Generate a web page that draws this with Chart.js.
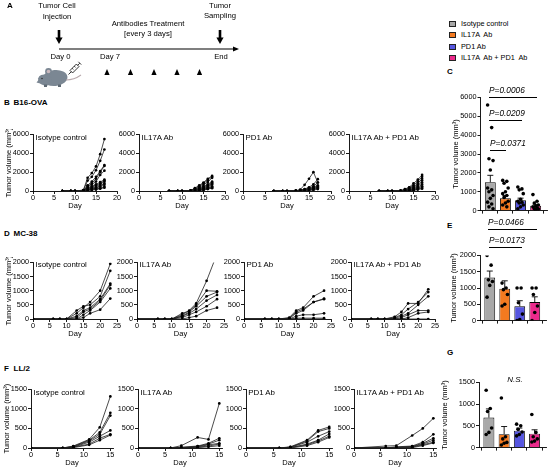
<!DOCTYPE html>
<html>
<head>
<meta charset="utf-8">
<script src="https://cdn.jsdelivr.net/npm/chart.js@4.4.1/dist/chart.umd.min.js"></script>
<style>
  html, body { margin: 0; padding: 0; background: #fff; }
  #fig { position: relative; width: 550px; height: 468px; overflow: hidden;
         font-family: "Liberation Sans", Arial, sans-serif; color: #000; }
  #fig canvas { position: absolute; }
  .t { position: absolute; white-space: pre; line-height: 1; }
  .sw { position: absolute; width: 5px; height: 4px; border: 1px solid #222; }
  .br { position: absolute; height: 0; border-top: 1px solid #000; }
</style>
</head>
<body>
<div id="fig"></div>
<script>
// groups
const groupNames = ['Isotype control', 'IL17A  Ab', 'PD1 Ab', 'IL17A  Ab + PD1  Ab']
const panelTitles = ['Isotype control', 'IL17A Ab', 'PD1 Ab', 'IL17A Ab + PD1 Ab']
const groupColors = ['#a8a8a8', '#f47a20', '#5656e0', '#ec2a8c']

// B16-OVA growth curves (mm3)
const daysB16 = [7, 9, 10, 12, 13, 14, 15, 16, 17]
const isoB16 = [
  [0, 0, 0, 100, 1400, 1900, 2600, 3900, 5500],
  [0, 0, 0, 80, 1100, 1500, 2200, 3200, 4400],
  [0, 0, 0, 60, 600, 1000, 1500, 2100, 2750],
  [0, 0, 0, 50, 500, 800, 1300, 2000, 2650],
  [0, 0, 0, 40, 400, 700, 1000, 1700, 2150],
  [0, 0, 0, 30, 300, 500, 700, 950, 1200],
  [0, 0, 0, 20, 250, 400, 600, 800, 1100],
  [0, 0, 0, 20, 200, 300, 450, 700, 1000],
  [0, 0, 0, 10, 150, 250, 350, 550, 800],
  [0, 0, 0, 10, 100, 200, 300, 450, 650],
  [0, 0, 0, 0, 80, 150, 200, 300, 450],
  [0, 0, 0, 0, 50, 100, 150, 250, 350]
]
const il17B16 = [
  [0, 0, 0, 50, 300, 600, 900, 1300, 1600],
  [0, 0, 0, 40, 250, 500, 800, 1150, 1500],
  [0, 0, 0, 30, 200, 400, 650, 950, 1400],
  [0, 0, 0, 20, 150, 300, 500, 700, 1000],
  [0, 0, 0, 20, 100, 250, 400, 600, 900],
  [0, 0, 0, 10, 100, 200, 300, 500, 800],
  [0, 0, 0, 10, 80, 150, 250, 400, 700],
  [0, 0, 0, 0, 50, 100, 200, 300, 500],
  [0, 0, 0, 0, 40, 80, 150, 250, 400],
  [0, 0, 0, 0, 20, 50, 100, 200, 300]
]
const pd1B16 = [
  [0, 0, 0, 30, 150, 650, 1300, 2000, 900],
  [0, 0, 0, 20, 100, 200, 400, 700, 1250],
  [0, 0, 0, 20, 80, 150, 300, 500, 900],
  [0, 0, 0, 10, 60, 120, 250, 400, 600],
  [0, 0, 0, 10, 50, 100, 200, 300, 500],
  [0, 0, 0, 0, 30, 80, 150, 250, 400],
  [0, 0, 0, 0, 20, 50, 100, 200, 300],
  [0, 0, 0, 0, 10, 30, 60, 100, 200]
]
const comboB16 = [
  [0, 0, 0, 30, 200, 400, 800, 1200, 1700],
  [0, 0, 0, 20, 150, 350, 600, 1000, 1500],
  [0, 0, 0, 20, 100, 250, 450, 800, 1300],
  [0, 0, 0, 10, 80, 200, 400, 650, 1100],
  [0, 0, 0, 10, 60, 150, 300, 500, 900],
  [0, 0, 0, 0, 50, 100, 200, 400, 700],
  [0, 0, 0, 0, 30, 80, 150, 300, 500],
  [0, 0, 0, 0, 20, 50, 100, 200, 350],
  [0, 0, 0, 0, 10, 30, 60, 150, 250]
]

// MC-38 growth curves
const daysMC38 = [0, 6, 8, 10, 13, 15, 17, 20, 23]
const isoMC38 = [
  [0, 0, 0, 0, 200, 400, 600, 1000, 1950],
  [0, 0, 0, 0, 300, 450, 500, 800, 1700],
  [0, 0, 0, 0, 100, 300, 400, 700, 1250],
  [0, 0, 0, 0, 50, 250, 350, 650, 1200],
  [0, 0, 0, 0, 0, 150, 300, 600, 1080],
  [0, 0, 0, 0, 0, 50, 200, 330, 720]
]
const il17MC38 = [
  [0, 0, 0, 0, 150, 300, 550, 1350, 2300],
  [0, 0, 0, 0, 200, 280, 500, 1000, 980],
  [0, 0, 0, 0, 100, 250, 450, 800, 950],
  [0, 0, 0, 0, 100, 200, 350, 650, 850],
  [0, 0, 0, 0, 50, 150, 250, 450, 700],
  [0, 0, 0, 0, 0, 50, 100, 300, 400]
]
const pd1MC38 = [
  [0, 0, 0, 0, 50, 300, 400, 800, 1000],
  [0, 0, 0, 0, 30, 250, 350, 600, 700],
  [0, 0, 0, 0, 20, 200, 300, 600, 720],
  [0, 0, 0, 0, 0, 100, 150, 150, 200],
  [0, 0, 0, 0, 0, 30, 30, 30, 30],
  [0, 0, 0, 0, 0, 0, 0, 0, 0]
]
const comboMC38 = [
  [0, 0, 0, 0, 80, 250, 550, 550, 1050],
  [0, 0, 0, 0, 50, 150, 350, 600, 950],
  [0, 0, 0, 0, 30, 100, 200, 500, 800],
  [0, 0, 0, 0, 0, 50, 150, 300, 300],
  [0, 0, 0, 0, 0, 0, 50, 200, 250],
  [0, 0, 0, 0, 0, 0, 0, 0, 0]
]

// LL/2 growth curves
const daysLL2 = [0, 6, 8, 11, 13, 15]
const isoLL2 = [
  [0, 0, 50, 220, 530, 1320],
  [0, 0, 40, 200, 400, 900],
  [0, 0, 30, 180, 350, 830],
  [0, 0, 20, 150, 300, 450],
  [0, 0, 20, 100, 250, 350],
  [0, 0, 10, 80, 200, 330]
]
const il17LL2 = [
  [0, 0, 60, 270, 220, 1140],
  [0, 0, 20, 50, 120, 250],
  [0, 0, 10, 40, 100, 200],
  [0, 0, 0, 30, 80, 120],
  [0, 0, 0, 20, 50, 100],
  [0, 0, 0, 10, 30, 60]
]
const pd1LL2 = [
  [0, 0, 30, 200, 450, 540],
  [0, 0, 20, 180, 420, 500],
  [0, 0, 20, 150, 300, 420],
  [0, 0, 10, 100, 200, 360],
  [0, 0, 10, 80, 180, 300],
  [0, 0, 0, 60, 150, 270]
]
const comboLL2 = [
  [0, 50, 60, 320, 500, 760],
  [0, 0, 30, 50, 150, 350],
  [0, 0, 20, 40, 120, 250],
  [0, 0, 10, 30, 100, 200],
  [0, 0, 0, 20, 80, 150],
  [0, 0, 0, 10, 60, 130]
]

// end-point bars (mean, SEM, individual mice)
const meansC = [1500, 650, 550, 260]
const semC = [370, 150, 110, 75]
const pointsC = [
  [5600, 4400, 2750, 2650, 2150, 1200, 1100, 1000, 800, 650, 450, 350, 200, 100],
  [1600, 1550, 1450, 1200, 1000, 900, 800, 700, 500, 400, 300, 200],
  [1250, 1150, 1100, 900, 600, 500, 450, 400, 300, 200, 100],
  [850, 500, 400, 300, 250, 200, 150, 100, 80, 50]
]
const meansE = [1320, 980, 440, 570]
const semE = [200, 240, 170, 160]
const pointsE = [
  [2000, 1700, 1250, 1200, 1080, 720],
  [1150, 1000, 950, 800, 500, 450],
  [1000, 1000, 550, 200, 30, 0],
  [1000, 1000, 800, 450, 250, 0]
]
const meansG = [690, 310, 390, 320]
const semG = [200, 175, 60, 90]
const pointsG = [
  [1320, 900, 830, 450, 350, 300],
  [1140, 250, 200, 120, 100, 60],
  [540, 500, 420, 360, 300, 270],
  [760, 350, 250, 200, 150, 130]
]

const fig = document.getElementById('fig')
const FONT = '"Liberation Sans", Arial, sans-serif'
const tickFont = { family: FONT, size: 7.3 }

function text(str, x, y, opt = {}) {
  let el = document.createElement('div')
  el.className = 't'
  el.textContent = str
  el.style.left = x + 'px'
  el.style.top = y + 'px'
  el.style.fontSize = (opt.size || 7.7) + 'px'
  if (opt.bold) el.style.fontWeight = 'bold'
  if (opt.italic) el.style.fontStyle = 'italic'
  el.style.transform = opt.center ? 'translate(-50%,-50%)' : 'translate(0,-50%)'
  fig.appendChild(el)
  return el
}

function makeCanvas(left, top, w, h) {
  let c = document.createElement('canvas')
  c.width = w
  c.height = h
  c.style.left = left + 'px'
  c.style.top = top + 'px'
  c.style.width = w + 'px'
  c.style.height = h + 'px'
  fig.appendChild(c)
  return c
}

function axisStyle(extra) {
  return Object.assign({
    grid: { drawOnChartArea: false, drawTicks: true, tickLength: 3, color: '#000', lineWidth: 0.9 },
    border: { display: true, color: '#000', width: 0.9 },
  }, extra)
}

const plainNum = v => String(v)
const yTitle = { display: true, text: 'Tumor volume (mm³)', color: '#000', padding: 0, font: { family: FONT, size: 7.5 } }

// one spaghetti plot; box = chart area in page pixels
function linePanel(box, days, curves, xMax, yMax, yStep, title, showY) {
  const Wy = 29, Hx = 19, pt = 5, pr = 6
  let canvas = makeCanvas(box.x0 - Wy, box.y0 - pt,
    Math.round(box.x1 - box.x0 + Wy + pr), Math.round(box.y1 - box.y0 + pt + Hx))
  let xticks = []
  for (let v = 0; v <= xMax; v += 5) xticks.push({ value: v })
  new Chart(canvas, {
    type: 'line',
    data: {
      datasets: curves.map(c => ({
        data: days.map((d, i) => ({ x: d, y: c[i] })),
        borderColor: '#1e1e1e',
        borderWidth: 0.8,
        pointRadius: 1.35,
        pointBackgroundColor: '#000',
        pointBorderWidth: 0,
        tension: 0,
      })),
    },
    options: {
      responsive: false,
      animation: false,
      events: [],
      layout: { padding: { top: pt, right: pr, left: 0, bottom: 0 } },
      plugins: { legend: { display: false }, tooltip: { enabled: false } },
      scales: {
        x: axisStyle({
          type: 'linear', min: 0, max: xMax,
          afterBuildTicks: s => { s.ticks = xticks.slice() },
          afterFit: s => { s.height = Hx },
          ticks: { font: tickFont, color: '#000', padding: 0, maxRotation: 0, autoSkip: false, callback: plainNum },
          title: { display: true, text: 'Day', color: '#000', padding: 0, font: { family: FONT, size: 7.5 } },
        }),
        y: axisStyle({
          min: 0, max: yMax,
          afterFit: s => { s.width = Wy },
          ticks: { stepSize: yStep, font: tickFont, color: '#000', padding: 1, callback: plainNum },
          title: Object.assign({}, yTitle, { display: showY }),
        }),
      },
    },
  })
  text(title, box.x0 + 2.5, box.y0 + 3.5, { size: 7.9 })
}

// error bars on top of the bars
const semPlugin = {
  id: 'sem',
  afterDatasetsDraw(chart, args, opts) {
    const { ctx, scales: { x, y } } = chart
    ctx.save()
    ctx.strokeStyle = '#000'
    ctx.lineWidth = 0.9
    opts.means.forEach((m, i) => {
      let px = x.getPixelForValue(i)
      let top = y.getPixelForValue(m + opts.sems[i])
      ctx.beginPath()
      ctx.moveTo(px, y.getPixelForValue(m))
      ctx.lineTo(px, top)
      ctx.moveTo(px - 3, top)
      ctx.lineTo(px + 3, top)
      ctx.stroke()
    })
    ctx.restore()
  },
}

function barPanel(box, Wy, means, sems, points, yMax, yStep) {
  const Hx = 5, pt = 5, pr = 2
  let canvas = makeCanvas(box.x0 - Wy, box.y0 - pt,
    Math.round(box.x1 - box.x0 + Wy + pr), Math.round(box.y1 - box.y0 + pt + Hx))
  let dots = []
  points.forEach((grp, g) => grp.forEach((v, j) => {
    dots.push({ x: g + ((j * 3) % 5 - 2) * 0.09, y: v })
  }))
  new Chart(canvas, {
    type: 'bar',
    data: {
      datasets: [
        {
          type: 'scatter', data: dots, order: 0,
          pointRadius: 1.8, pointBackgroundColor: '#000', pointBorderWidth: 0,
        },
        {
          type: 'bar', order: 1,
          data: means.map((m, i) => ({ x: i, y: m })),
          backgroundColor: groupColors, borderColor: '#000', borderWidth: 0.9,
          barPercentage: 0.72, categoryPercentage: 1,
        },
      ],
    },
    options: {
      responsive: false,
      animation: false,
      events: [],
      layout: { padding: { top: pt, right: pr, left: 0, bottom: 0 } },
      plugins: { legend: { display: false }, tooltip: { enabled: false }, sem: { means, sems } },
      scales: {
        x: axisStyle({
          type: 'linear', min: -0.65, max: 3.75, offset: false,
          afterBuildTicks: s => { s.ticks = [0, 1, 2, 3].map(v => ({ value: v })) },
          afterFit: s => { s.height = Hx },
          ticks: { callback: () => '', font: tickFont },
        }),
        y: axisStyle({
          min: 0, max: yMax,
          afterFit: s => { s.width = Wy },
          ticks: { stepSize: yStep, font: tickFont, color: '#000', padding: 1, callback: plainNum },
          title: yTitle,
        }),
      },
    },
    plugins: [semPlugin],
  })
}

function bracket(label, x0, x1, y, ty) {
  let b = document.createElement('div')
  b.className = 'br'
  b.style.left = x0 + 'px'
  b.style.top = y + 'px'
  b.style.width = (x1 - x0) + 'px'
  fig.appendChild(b)
  text(label, x0, ty, { size: 8.3, italic: true })
}

// ---------- panel A: schedule ----------
let a = makeCanvas(0, 0, 245, 92).getContext('2d')
a.fillStyle = '#000'
a.strokeStyle = '#000'
function downArrow(x) {
  a.fillRect(x - 1.3, 30, 2.6, 8)
  a.beginPath(); a.moveTo(x - 3.6, 37.5); a.lineTo(x + 3.6, 37.5); a.lineTo(x, 44); a.fill()
}
downArrow(59)
downArrow(220)
a.lineWidth = 1.2
a.beginPath(); a.moveTo(59, 49); a.lineTo(234, 49); a.stroke()
a.beginPath(); a.moveTo(233, 46.5); a.lineTo(239, 49); a.lineTo(233, 51.5); a.fill()
;[107, 130.5, 154, 177, 199.5].forEach(x => {
  a.beginPath(); a.moveTo(x, 69); a.lineTo(x + 2.6, 75); a.lineTo(x - 2.6, 75); a.fill()
})
// mouse
a.fillStyle = '#7b8793'
a.beginPath(); a.ellipse(55, 78, 12.5, 8, -0.1, 0, Math.PI * 2); a.fill()
a.beginPath(); a.ellipse(45, 80, 7, 5.5, 0.25, 0, Math.PI * 2); a.fill()
a.beginPath(); a.moveTo(40, 78); a.lineTo(36.5, 82.5); a.lineTo(42, 84); a.fill()
a.beginPath(); a.arc(48.5, 71.5, 3.4, 0, Math.PI * 2); a.fill()
a.fillStyle = '#c9b8bd'
a.beginPath(); a.arc(48.5, 71.5, 1.8, 0, Math.PI * 2); a.fill()
a.fillStyle = '#333'
a.beginPath(); a.arc(42, 78.5, 0.8, 0, Math.PI * 2); a.fill()
a.fillStyle = '#5f6a74'
a.fillRect(44, 84.5, 3, 2.5); a.fillRect(58, 84.5, 3, 2.5)
a.strokeStyle = '#b9a9ad'; a.lineWidth = 1.1
a.beginPath(); a.moveTo(66, 80); a.quadraticCurveTo(74, 80, 81, 75); a.stroke()
// syringe
a.save()
a.translate(74.5, 68.5); a.rotate(-Math.PI / 4)
a.strokeStyle = '#111'; a.lineWidth = 0.8
a.fillStyle = '#fff'
a.fillRect(-4.5, -1.8, 9, 3.6); a.strokeRect(-4.5, -1.8, 9, 3.6)
a.beginPath(); a.moveTo(-4.5, 0); a.lineTo(-8.5, 0)
a.moveTo(4.5, 0); a.lineTo(7.5, 0); a.moveTo(7.5, -2); a.lineTo(7.5, 2)
a.moveTo(-1.5, -1.8); a.lineTo(-1.5, 0); a.moveTo(1.5, -1.8); a.lineTo(1.5, 0)
a.stroke()
a.restore()

text('A', 7, 6, { size: 8, bold: true })
text('Tumor Cell', 57, 6, { center: true })
text('Injection', 57, 17, { center: true })
text('Antibodies Treatment', 148, 24, { center: true })
text('[every 3 days]', 148, 34, { center: true })
text('Tumor', 220, 6, { center: true })
text('Sampling', 220, 16, { center: true })
text('Day 0', 60.5, 57, { center: true })
text('Day 7', 110, 57, { center: true })
text('End', 221, 57, { center: true })

// legend
groupNames.forEach((n, i) => {
  let y = [24.3, 35.3, 46.5, 57.5][i]
  let s = document.createElement('div')
  s.className = 'sw'
  s.style.left = '449px'
  s.style.top = (y - 3) + 'px'
  s.style.background = groupColors[i]
  fig.appendChild(s)
  text(n, 461, y, { size: 7.3 })
})

// row labels
text('B', 4, 103, { size: 8, bold: true })
text('B16-OVA', 13.5, 103, { size: 8, bold: true })
text('C', 447, 72, { size: 8, bold: true })
text('D', 4, 234, { size: 8, bold: true })
text('MC-38', 13.5, 234, { size: 8, bold: true })
text('E', 447, 226, { size: 8, bold: true })
text('F', 4, 369, { size: 8, bold: true })
text('LL/2', 13.5, 369, { size: 8, bold: true })
text('G', 447, 353, { size: 8, bold: true })

// ---------- row B: B16-OVA ----------
const boxesB = [[33, 117], [139, 225], [243, 331], [349, 435]]
;[isoB16, il17B16, pd1B16, comboB16].forEach((cv, i) => {
  linePanel({ x0: boxesB[i][0], x1: boxesB[i][1], y0: 134, y1: 191 }, daysB16, cv, 20, 6000, 2000, panelTitles[i], i === 0)
})
barPanel({ x0: 480, x1: 548, y0: 96.7, y1: 210.7 }, 29.5, meansC, semC, pointsC, 6000, 1000)
bracket('P=0.0006', 489, 537, 97, 90)
bracket('P=0.0209', 489, 522, 120, 113)
bracket('P=0.0371', 490, 506, 150, 143)

// ---------- row D: MC-38 ----------
const boxesD = [[33, 117], [137, 224], [244, 331], [351, 435]]
;[isoMC38, il17MC38, pd1MC38, comboMC38].forEach((cv, i) => {
  linePanel({ x0: boxesD[i][0], x1: boxesD[i][1], y0: 261.7, y1: 318.7 }, daysMC38, cv, 25, 2000, 500, panelTitles[i], i === 0)
})
barPanel({ x0: 480, x1: 548, y0: 255, y1: 320.7 }, 31, meansE, semE, pointsE, 2000, 500)
bracket('P=0.0466', 488, 537, 229, 222)
bracket('P=0.0173', 489, 522, 247, 239.5)

// ---------- row F: LL/2 ----------
const boxesF = [[31, 112.6], [138, 221.7], [245.7, 332], [354, 435.7]]
;[isoLL2, il17LL2, pd1LL2, comboLL2].forEach((cv, i) => {
  linePanel({ x0: boxesF[i][0], x1: boxesF[i][1], y0: 389, y1: 448 }, daysLL2, cv, 15.5, 1500, 500, panelTitles[i], i === 0)
})
barPanel({ x0: 479, x1: 548, y0: 381.7, y1: 448 }, 39, meansG, semG, pointsG, 1500, 500)
text('N.S.', 515, 380, { size: 8, italic: true, center: true })
</script>
</body>
</html>
